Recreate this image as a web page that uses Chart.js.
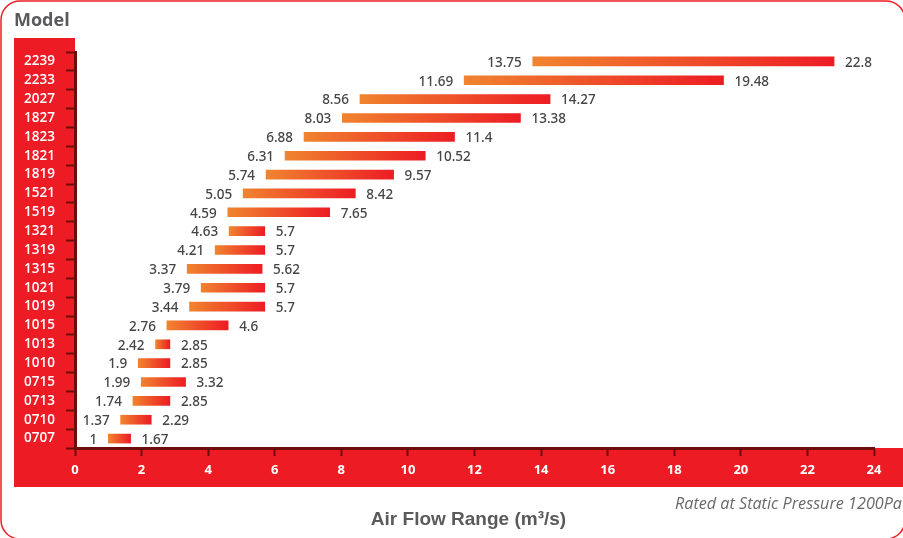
<!DOCTYPE html>
<html>
<head>
<meta charset="utf-8">
<script src="https://cdn.jsdelivr.net/npm/chart.js@4/dist/chart.umd.min.js"></script>
<style>
  html, body { margin: 0; padding: 0; background: #ffffff; }
  canvas { display: block; }
</style>
</head>
<body>
<canvas id="c" width="903" height="538"></canvas>
<script>
// Fan models, top to bottom
const models = ['2239', '2233', '2027', '1827', '1823', '1821', '1819', '1521', '1519', '1321', '1319',
                '1315', '1021', '1019', '1015', '1013', '1010', '0715', '0713', '0710', '0707'];
// Air flow range per model (m³/s)
const flowMin = [13.75, 11.69, 8.56, 8.03, 6.88, 6.31, 5.74, 5.05, 4.59, 4.63, 4.21,
                 3.37, 3.79, 3.44, 2.76, 2.42, 1.9, 1.99, 1.74, 1.37, 1];
const flowMax = [22.8, 19.48, 14.27, 13.38, 11.4, 10.52, 9.57, 8.42, 7.65, 5.7, 5.7,
                 5.62, 5.7, 5.7, 4.6, 2.85, 2.85, 3.32, 2.85, 2.29, 1.67];
// Axis ticks
const xTicks = [0, 2, 4, 6, 8, 10, 12, 14, 16, 18, 20, 22, 24];

const RED = '#ED1C24';
const ORANGE = '#F0842F';
const DARK = '#6E0B0B';

// Red frame, side band and bottom band behind the axes, plus headings
const framePlugin = {
  id: 'frame',
  beforeDraw(chart) {
    const { ctx, chartArea } = chart;
    ctx.save();
    ctx.fillStyle = '#ffffff';
    ctx.fillRect(0, 0, chart.width, chart.height);
    // outer rounded outline
    ctx.strokeStyle = RED;
    ctx.lineWidth = 1.5;
    ctx.beginPath();
    ctx.roundRect(1, 1, 904, 538, 19);
    ctx.stroke();
    // red bands for the category and value labels
    ctx.fillStyle = RED;
    ctx.fillRect(14, 38, chartArea.left - 14, 487 - 38);
    ctx.fillRect(14, chartArea.bottom, chart.width - 14, 487 - chartArea.bottom);
    // headings
    ctx.fillStyle = '#5A5A5C';
    ctx.textAlign = 'left';
    ctx.textBaseline = 'alphabetic';
    ctx.font = 'bold 18px "Open Sans"';
    ctx.fillText('Model', 14, 26);
    ctx.textAlign = 'center';
    ctx.font = 'bold 19px "Liberation Sans"';
    ctx.fillText('Air Flow Range (m³/s)', 468.5, 525);
    ctx.textAlign = 'left';
    ctx.fillStyle = '#6A6A6A';
    ctx.font = 'italic 16.5px "Open Sans"';
    ctx.fillText('Rated at Static Pressure 1200Pa', 675, 509, 227);
    ctx.restore();
  }
};

// Min / max values printed at both ends of each bar
const endLabels = {
  id: 'endLabels',
  afterDatasetsDraw(chart) {
    const { ctx } = chart;
    const meta = chart.getDatasetMeta(0);
    ctx.save();
    ctx.font = '500 13.5px "Noto Sans"';
    ctx.fillStyle = '#454545';
    ctx.textBaseline = 'middle';
    meta.data.forEach((bar, i) => {
      const left = Math.min(bar.x, bar.base);
      const right = Math.max(bar.x, bar.base);
      ctx.textAlign = 'right';
      ctx.fillText(String(flowMin[i]), left - 11, bar.y + 1.5);
      ctx.textAlign = 'left';
      ctx.fillText(String(flowMax[i]), right + 11, bar.y + 1.5);
    });
    ctx.restore();
  }
};

function barFill(context) {
  const chart = context.chart;
  const xs = chart.scales && chart.scales.x;
  const i = context.dataIndex;
  if (!xs || !chart.chartArea || i === undefined) return RED;
  const x0 = xs.getPixelForValue(flowMin[i]);
  const x1 = xs.getPixelForValue(flowMax[i]);
  if (!isFinite(x0) || !isFinite(x1) || x0 === x1) return RED;
  const g = chart.ctx.createLinearGradient(x0, 0, x1, 0);
  g.addColorStop(0, ORANGE);
  g.addColorStop(1, RED);
  return g;
}

new Chart(document.getElementById('c'), {
  type: 'bar',
  data: {
    labels: models,
    datasets: [{
      data: models.map((m, i) => [flowMin[i], flowMax[i]]),
      backgroundColor: barFill,
      borderWidth: 0,
      borderSkipped: false,
      barThickness: 9
    }]
  },
  options: {
    indexAxis: 'y',
    responsive: false,
    animation: false,
    devicePixelRatio: 1,
    layout: { padding: { top: 52, right: 29, left: 0, bottom: 0 } },
    plugins: {
      legend: { display: false },
      tooltip: { enabled: false },
      title: { display: false }
    },
    scales: {
      x: {
        type: 'linear',
        min: 0,
        max: 24,
        afterBuildTicks(scale) { scale.ticks = xTicks.map(v => ({ value: v })); },
        afterFit(scale) { scale.height = 90; },
        grid: {
          drawOnChartArea: false,
          drawTicks: true,
          tickLength: 8,
          tickColor: DARK,
          tickWidth: 2
        },
        border: { display: true, color: DARK, width: 3 },
        ticks: {
          color: '#ffffff',
          font: { family: 'Open Sans', size: 13, weight: '700' },
          padding: 6
        }
      },
      y: {
        type: 'category',
        afterFit(scale) { scale.width = 75; },
        grid: {
          offset: true,
          drawOnChartArea: false,
          drawTicks: true,
          tickLength: 9,
          tickColor: DARK,
          tickWidth: 2
        },
        border: { display: true, color: DARK, width: 3 },
        ticks: {
          color: '#ffffff',
          font: { family: 'Open Sans', size: 13.5, weight: '600' },
          padding: 11,
          autoSkip: false
        }
      }
    }
  },
  plugins: [framePlugin, endLabels]
});
</script>
</body>
</html>
